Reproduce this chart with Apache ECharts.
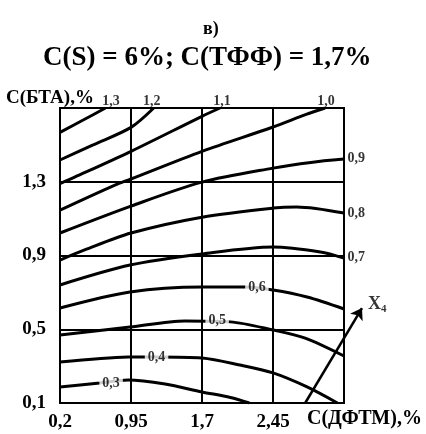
<!DOCTYPE html>
<html><head><meta charset="utf-8">
<script src="https://cdn.jsdelivr.net/npm/echarts@6/dist/echarts.min.js"></script>
<style>html,body{margin:0;padding:0;background:#fff}#c{width:426px;height:434px}</style>
</head><body><div id="c"></div><script>
// axes (real units)
const xMin = 0.2, xMax = 3.2, xStep = 0.75;
const yMin = 0.1, yMax = 1.7, yStep = 0.4;
const xName = 'С(ДФТМ),%';
const yName = 'С(БТА),%';
const titleTop = 'в)';
const titleMain = 'C(S) = 6%; C(ТФФ) = 1,7%';

// contour lines: [C(ДФТМ), C(БТА)]
const c13 = [[0.2,1.568],[0.45,1.636],[0.68,1.70]];
const c12 = [[0.2,1.418],[0.55,1.50],[0.95,1.595],[1.19,1.70]];
const c11 = [[0.2,1.29],[0.36,1.326],[0.95,1.465],[1.70,1.655],[1.89,1.70]];
const c10 = [[0.2,1.146],[0.78,1.282],[0.95,1.315],[1.70,1.465],[2.45,1.597],[2.80,1.665],[3.0,1.70]];
const c09 = [[0.2,1.022],[0.95,1.168],[1.70,1.298],[2.45,1.374],[2.85,1.405],[3.2,1.423]];
const c08 = [[0.2,0.875],[0.46,0.93],[0.95,1.022],[1.70,1.108],[2.45,1.157],[2.70,1.163],[3.2,1.13]];
const c07 = [[0.2,0.74],[0.94,0.848],[1.70,0.908],[2.45,0.946],[2.95,0.919],[3.2,0.886]];
const c06 = [[0.2,0.615],[0.94,0.702],[1.70,0.729],[2.15,0.729],[2.45,0.713],[2.81,0.675],[3.2,0.61]];
const c05 = [[0.2,0.469],[0.94,0.512],[1.52,0.545],[2.0,0.54],[2.45,0.496],[2.79,0.452],[3.2,0.355]];
const c04 = [[0.2,0.322],[0.92,0.349],[1.22,0.35],[1.70,0.344],[2.10,0.306],[2.45,0.263],[2.81,0.187],[3.13,0.1]];
const c03 = [[0.2,0.187],[0.62,0.208],[0.92,0.225],[1.31,0.203],[1.70,0.16],[2.0,0.13],[2.2,0.1]];
const contours = [c13,c12,c11,c10,c09,c08,c07,c06,c05,c04,c03];

// contour labels
const inlineLabelText = ['0,3','0,4','0,5','0,6'];
const inlineLabelAt = [[0.74,0.208],[1.22,0.35],[1.86,0.55],[2.28,0.729]];
const edgeLabelText = ['1,3','1,2','1,1','1,0','0,9','0,8','0,7'];
const edgeLabelAt = [[0.74,1.737],[1.17,1.737],[1.91,1.737],[3.01,1.737],[3.33,1.429],[3.33,1.13],[3.33,0.892]];

// factor arrow X4
const arrowFrom = [2.79,0.1];
const arrowTo = [3.39,0.615];
const arrowLabelAt = [3.55,0.635];

const SERIF = '"Liberation Serif", "DejaVu Serif", serif';
const fmt = v => String(+v.toFixed(2)).replace('.', ',');

const series = contours.map(c => ({
  type: 'line', data: c, smooth: 0.3, showSymbol: false, symbol: 'none',
  lineStyle: {color: '#000', width: 3}, z: 3, silent: true
}));

series.push({
  type: 'scatter', symbolSize: 0, clip: false, z: 5, silent: true,
  data: inlineLabelAt.map((p, i) => ({value: p, name: inlineLabelText[i]})),
  label: {show: true, position: 'inside', formatter: p => p.name,
    fontFamily: SERIF, fontWeight: 'bold', fontSize: 14, color: '#000',
    backgroundColor: '#fff', padding: [1, 3]}
});
series.push({
  type: 'scatter', symbolSize: 0, clip: false, z: 5, silent: true,
  data: edgeLabelAt.map((p, i) => ({value: p, name: edgeLabelText[i]})),
  label: {show: true, position: 'inside', formatter: p => p.name,
    fontFamily: SERIF, fontWeight: 'bold', fontSize: 14, color: '#000'}
});
series.push({
  type: 'lines', coordinateSystem: 'cartesian2d', clip: false, z: 6, silent: true,
  symbol: ['none', 'arrow'], symbolSize: 11,
  lineStyle: {color: '#000', width: 2.5, opacity: 1},
  data: [{coords: [arrowFrom, arrowTo]}]
});
series.push({
  type: 'scatter', symbolSize: 0, clip: false, z: 6, silent: true,
  data: [{value: arrowLabelAt, name: 'X4'}],
  label: {show: true, position: 'inside', formatter: '{a|X}{b|4}',
    rich: {a: {fontFamily: SERIF, fontWeight: 'bold', fontSize: 18, color: '#000'},
           b: {fontFamily: SERIF, fontWeight: 'bold', fontSize: 11, color: '#000', verticalAlign: 'bottom', padding: [9,0,0,0]}}}
});

const chart = echarts.init(document.getElementById('c'), null, {renderer: 'canvas'});
chart.setOption({
  animation: false,
  backgroundColor: '#fff',
  title: [
    {text: titleTop, left: 198, top: 15, textStyle: {fontFamily: SERIF, fontWeight: 'bold', fontSize: 18, color: '#000'}},
    {text: titleMain, left: 38, top: 40, textStyle: {fontFamily: SERIF, fontWeight: 'bold', fontSize: 27, color: '#000'}}
  ],
  grid: {left: 60, right: 82, top: 108, bottom: 31, show: true, borderColor: '#000', borderWidth: 2, backgroundColor: 'transparent', z: 2},
  xAxis: {
    type: 'value', min: xMin, max: xMax, interval: xStep,
    axisLine: {show: false}, axisTick: {show: false},
    splitLine: {show: true, lineStyle: {color: '#000', width: 2}},
    axisLabel: {margin: 10, fontFamily: SERIF, fontWeight: 'bold', fontSize: 19, color: '#000',
      formatter: v => Math.abs(v - xMax) < 1e-6 ? '' : fmt(v)}
  },
  yAxis: {
    type: 'value', min: yMin, max: yMax, interval: yStep,
    axisLine: {show: false}, axisTick: {show: false},
    splitLine: {show: true, lineStyle: {color: '#000', width: 2}},
    axisLabel: {margin: 14, fontFamily: SERIF, fontWeight: 'bold', fontSize: 19, color: '#000',
      formatter: v => Math.abs(v - yMax) < 1e-6 ? '' : fmt(v)}
  },
  graphic: [
    {type: 'text', left: 307, top: 409, style: {text: xName, font: 'bold 20px ' + SERIF, fill: '#000'}},
    {type: 'text', left: 6, top: 89, style: {text: yName, font: 'bold 19px ' + SERIF, fill: '#000'}}
  ],
  series: series
});
</script></body></html>
